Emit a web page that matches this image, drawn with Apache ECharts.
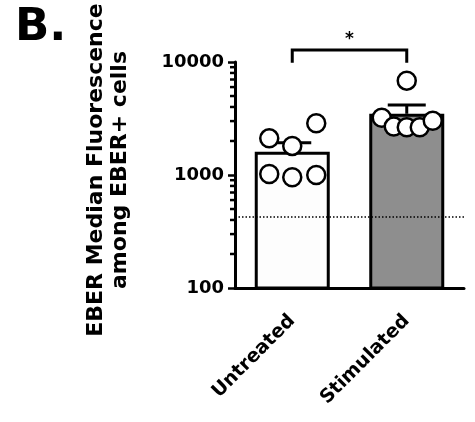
<!DOCTYPE html>
<html>
<head>
<meta charset="utf-8">
<script src="https://cdn.jsdelivr.net/npm/echarts@6/dist/echarts.min.js"></script>
<style>
html,body{margin:0;padding:0;background:#fff;}
#main{width:475px;height:422px;}
</style>
</head>
<body>
<div id="main"></div>
<script>
// ---- data ----
const categories = ['Untreated', 'Stimulated'];
const barMeans = [1610, 3480];
const errorUpper = [1930, 4170];
const untreatedPoints = [2110, 1810, 2870, 1020, 955, 1000];
const stimulatedPoints = [6840, 3215, 2680, 2645, 2645, 3025];
const yMinorTicks = [200, 300, 400, 500, 600, 700, 800, 900, 2000, 3000, 4000, 5000, 6000, 7000, 8000, 9000];
const thresholdValue = 428;
const yTitle = 'EBER Median Fluorescence\namong EBER+ cells';
const panelLabel = 'B.';
const sigLabel = '*';

// ---- layout (pixel jitter of the dots) ----
const jitterUntreated = [-23, 0, 24, -23, 0, 24];
const jitterStimulated = [0, -25, -13, 0, 13, 26];

const FONT = '"DejaVu Sans", sans-serif';
const chart = echarts.init(document.getElementById('main'), null, {renderer: 'canvas'});

const pointData = [];
untreatedPoints.forEach((v, i) => pointData.push({value: [0, v], symbolOffset: [jitterUntreated[i], 0]}));
stimulatedPoints.forEach((v, i) => pointData.push({value: [1, v], symbolOffset: [jitterStimulated[i], 0]}));

const option = {
  animation: false,
  grid: {left: 235, right: 11, top: 62, bottom: 134, containLabel: false},
  xAxis: {
    type: 'category',
    data: categories,
    axisLine: {lineStyle: {color: '#000', width: 3}},
    axisTick: {alignWithLabel: true, length: 7, lineStyle: {color: '#000', width: 3}},
    axisLabel: {rotate: 45, margin: 30, color: '#000', fontFamily: FONT, fontWeight: 'bold', fontSize: 19}
  },
  yAxis: {
    type: 'log',
    min: 100, max: 10000,
    logBase: 10,
    axisLine: {show: true, lineStyle: {color: '#000', width: 3}},
    axisTick: {show: true, length: 7, lineStyle: {color: '#000', width: 2.5}},
    axisLabel: {margin: 11, color: '#000', fontFamily: FONT, fontWeight: 'bold', fontSize: 18,
      formatter: v => String(Math.round(v))},
    splitLine: {show: false}
  },
  series: [
    {
      type: 'scatter', data: [], z: 1,
      markLine: {
        silent: true, symbol: ['none', 'none'], label: {show: false},
        lineStyle: {color: '#000', width: 1.5, type: [1.5, 2]},
        data: [{yAxis: thresholdValue}]
      }
    },
    {
      type: 'custom', z: 3, clip: false, silent: true,
      data: yMinorTicks.map(v => [0, v]),
      renderItem: function (params, api) {
        const p = api.coord([0, api.value(1)]);
        const x0 = params.coordSys.x;
        return {type: 'line', shape: {x1: x0 - 5, y1: p[1], x2: x0, y2: p[1]}, style: {stroke: '#000', lineWidth: 2.5}};
      }
    },
    {
      type: 'bar', z: 2,
      barWidth: 75,
      data: barMeans.map((v, i) => ({value: v, itemStyle: {color: i === 0 ? '#fdfdfd' : '#8e8e8e'}})),
      itemStyle: {borderColor: '#000', borderWidth: 3}
    },
    {
      type: 'custom', z: 3,
      data: barMeans.map((v, i) => [i, v, errorUpper[i]]),
      renderItem: function (params, api) {
        const b = api.coord([api.value(0), api.value(1)]);
        const t = api.coord([api.value(0), api.value(2)]);
        const st = {stroke: '#000', lineWidth: 3};
        return {type: 'group', children: [
          {type: 'line', shape: {x1: b[0], y1: b[1], x2: t[0], y2: t[1]}, style: st},
          {type: 'line', shape: {x1: t[0] - 19, y1: t[1], x2: t[0] + 19, y2: t[1]}, style: st}
        ]};
      }
    },
    {
      type: 'scatter', z: 4,
      symbol: 'circle', symbolSize: 18,
      itemStyle: {color: '#fff', borderColor: '#000', borderWidth: 2.5, opacity: 1},
      data: pointData
    }
  ]
};
chart.setOption(option);

// bracket, title and panel label
const pL = chart.convertToPixel({xAxisIndex: 0, yAxisIndex: 0}, [categories[0], 12800]);
const pR = chart.convertToPixel({xAxisIndex: 0, yAxisIndex: 0}, [categories[1], 12800]);
const pEnd = chart.convertToPixel({xAxisIndex: 0, yAxisIndex: 0}, [categories[0], 9850]);
const midY = (chart.convertToPixel({yAxisIndex: 0}, 100) + chart.convertToPixel({yAxisIndex: 0}, 10000)) / 2;
chart.setOption({
  graphic: [
    {type: 'polyline', z: 10, shape: {points: [[pL[0], pEnd[1]], [pL[0], pL[1]], [pR[0], pR[1]], [pR[0], pEnd[1]]]},
      style: {stroke: '#000', lineWidth: 3, fill: null}},
    {type: 'text', z: 10, x: (pL[0] + pR[0]) / 2, y: pL[1] - 2,
      style: {text: sigLabel, fill: '#000', font: 'bold 17px ' + FONT, textAlign: 'center', textVerticalAlign: 'bottom'}},
    {type: 'text', z: 10, x: 108, y: midY - 5, rotation: Math.PI / 2,
      style: {text: yTitle, fill: '#000', font: 'bold 22px ' + FONT, lineHeight: 24, textAlign: 'center', textVerticalAlign: 'middle'}},
    {type: 'text', z: 10, x: 15, y: 6,
      style: {text: panelLabel, fill: '#000', font: 'bold 45px ' + FONT, textAlign: 'left', textVerticalAlign: 'top'}}
  ]
});
</script>
</body>
</html>
